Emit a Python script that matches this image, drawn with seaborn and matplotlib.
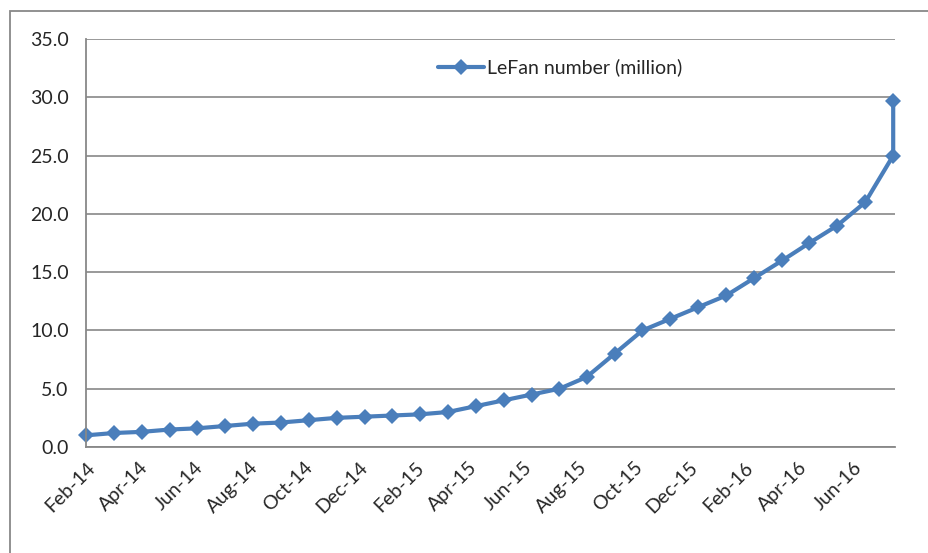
import pandas as pd
import matplotlib.pyplot as plt
import matplotlib.dates as mdates
import matplotlib.patches as mpatches
import seaborn as sns

# Dane (daty pomiarów i liczba użytkowników LeFan w milionach)
dates = [
    '2014-02-01', '2014-03-04', '2014-04-04', '2014-05-05', '2014-06-04',
    '2014-07-05', '2014-08-05', '2014-09-05', '2014-10-06', '2014-11-06',
    '2014-12-07', '2015-01-06', '2015-02-06', '2015-03-09', '2015-04-09',
    '2015-05-10', '2015-06-10', '2015-07-11', '2015-08-10', '2015-09-10',
    '2015-10-11', '2015-11-11', '2015-12-12', '2016-01-12', '2016-02-12',
    '2016-03-14', '2016-04-13', '2016-05-14', '2016-06-14', '2016-07-15',
    '2016-07-15',
]
lefan = [
    1.0, 1.2, 1.3, 1.5, 1.6, 1.8, 2.0, 2.1, 2.3, 2.5,
    2.6, 2.7, 2.8, 3.0, 3.5, 4.0, 4.5, 5.0, 6.0, 8.0,
    10.0, 11.0, 12.0, 13.0, 14.5, 16.0, 17.5, 19.0, 21.0, 25.0,
    29.7,
]
series_name = 'LeFan number (million)'

df = pd.DataFrame({'date': pd.to_datetime(dates), 'value': lefan, 'series': series_name})

sns.set_style('white')
plt.rcParams['font.family'] = ['Lato', 'DejaVu Sans']

grey = '#888888'
blue = '#4a7ebb'

fig = plt.figure(figsize=(9.29, 5.53), dpi=100)
ax = fig.add_axes([86 / 929, 1 - 447 / 553, 809 / 929, 408 / 553])

# Ramka wykresu
fig.patches.append(mpatches.Rectangle((10 / 929, -0.1), 1.0, 1.1 - 10.5 / 553,
                                      transform=fig.transFigure, fill=False,
                                      edgecolor=grey, linewidth=1.3))

sns.lineplot(data=df, x='date', y='value', hue='series', palette=[blue],
             estimator=None, sort=False, marker='D', markersize=8,
             markeredgewidth=0, linewidth=3, ax=ax)
for line in ax.lines:
    line.set_clip_on(False)

ax.set_ylim(0, 35)
ax.set_yticks(range(0, 36, 5))
ax.yaxis.set_major_formatter(plt.FormatStrFormatter('%.1f'))
ax.set_xlim(pd.Timestamp('2014-02-01'), pd.Timestamp('2016-07-17'))
ax.xaxis.set_major_locator(mdates.MonthLocator(bymonth=[2, 4, 6, 8, 10, 12]))
ax.xaxis.set_major_formatter(mdates.DateFormatter('%b-%y'))

ax.grid(axis='y', color=grey, linewidth=1.2)
ax.grid(axis='x', visible=False)
for s in ['top', 'right']:
    ax.spines[s].set_visible(False)
for s in ['left', 'bottom']:
    ax.spines[s].set_color(grey)
    ax.spines[s].set_linewidth(1.3)

ax.tick_params(axis='y', length=4.5, width=1.2, color=grey, pad=8, labelsize=14)
ax.tick_params(axis='x', length=4.5, width=1.2, color=grey, pad=4, labelsize=14)
for lab in ax.get_xticklabels():
    lab.set_rotation(45)
    lab.set_ha('right')
    lab.set_rotation_mode('anchor')
ax.set_xlabel('')
ax.set_ylabel('')

ax.legend(loc='center left', bbox_to_anchor=(0.413, 0.93), frameon=False,
          fontsize=14, handlelength=2.4, handletextpad=0.15)

fig.savefig('out.png', dpi=100)
